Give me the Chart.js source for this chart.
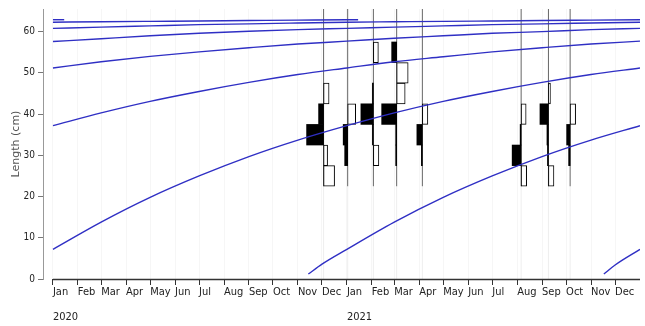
<!DOCTYPE html>
<html>
<head>
<meta charset="utf-8">
<script src="https://cdn.jsdelivr.net/npm/chart.js@4.4.1/dist/chart.umd.min.js"></script>
<style>
  html, body { margin: 0; padding: 0; background: #fff; }
</style>
</head>
<body>
<canvas id="lfq" width="645" height="326"></canvas>
<script>
// x values are days since 1 Jan 2020
const START = Date.UTC(2020, 0, 1);
const day = (s) => (Date.parse(s) - START) / 864e5;

// tick labels
const monthLabels = ['Jan', 'Feb', 'Mar', 'Apr', 'May', 'Jun', 'Jul', 'Aug', 'Sep', 'Oct', 'Nov', 'Dec'];
const years = [2020, 2021];

// length-frequency samples (restructured scores, + = peak, - = trough)
const lfqDates = ['2020-12-03', '2021-01-02', '2021-02-03', '2021-03-04', '2021-04-05', '2021-08-06', '2021-09-09', '2021-10-06'];
const lfqBins = [25, 30, 35, 40, 45, 50, 55];
const lfqScores = [
  [-1.1, -0.4, 1.7, 0.5, -0.55, 0, 0],
  [0, 0.3, 0.45, -0.8, 0, 0, 0],
  [0, -0.55, 0.1, 1.25, 0.1, 0, -0.5],
  [0, 0.1, 0.1, 1.5, -0.85, -1.15, 0.5],
  [0, 0.1, 0.55, -0.55, 0, 0, 0],
  [-0.55, 0.9, 0.1, -0.5, 0, 0, 0],
  [-0.55, 0.1, 0.15, 0.85, -0.2, 0, 0],
  [0, 0.15, 0.35, -0.55, 0, 0, 0]
];

// growth curves, one per cohort
const gDays = [0, 60, 121, 182, 244, 305, 366, 425, 486, 547, 609, 670, 731];
const len2019 = [7.2, 13.8, 19.8, 25.0, 29.7, 33.7, 37.2, 40.3, 43.1, 45.5, 47.7, 49.6, 51.2];
const len2018 = [37.2, 40.3, 43.1, 45.5, 47.7, 49.6, 51.2, 52.7, 53.9, 55.1, 56.1, 57.0, 57.7];
const len2017 = [51.2, 52.7, 54.0, 55.1, 56.1, 57.0, 57.7, 58.4, 59.0, 59.6, 60.0, 60.5, 60.8];
const len2016 = [57.6, 58.3, 59.0, 59.6, 60.1, 60.5, 60.8, 61.1, 61.4, 61.7, 61.9, 62.1, 62.3];
const len2015 = [60.8, 61.1, 61.4, 61.7, 61.9, 62.1, 62.3, 62.4, 62.5, 62.6, 62.7, 62.8, 62.9];
const days2014 = [0, 60, 121, 182, 244, 305, 366, 380];
const len2014 = [62.3, 62.4, 62.5, 62.6, 62.7, 62.8, 62.9, 62.9];
const days2013 = [0, 14];
const len2013 = [62.9, 62.9];
const days2020 = [318, 335, 366, 425, 486, 547, 609, 670, 731];
const len2020 = [1.2, 3.6, 7.2, 13.8, 19.8, 25.0, 29.7, 33.7, 37.2];
const days2021 = [686, 700, 731];
const len2021 = [1.2, 3.4, 7.2];

const DAYS_PER_SCORE = 12.45;
const Y_MAX = 65.5;
const BLUE = '#2f2fc4';

const zip = (xs, ys) => xs.map((x, i) => ({ x: x, y: ys[i] }));
const curves = [
  zip(gDays, len2019), zip(gDays, len2018), zip(gDays, len2017), zip(gDays, len2016),
  zip(gDays, len2015), zip(days2014, len2014), zip(days2013, len2013),
  zip(days2020, len2020), zip(days2021, len2021)
];

const blackBars = [];
const whiteBars = [];
const sampleTop = [];
const sampleLow = [];
lfqDates.forEach((d, i) => {
  const x0 = day(d);
  lfqScores[i].forEach((s, j) => {
    if (!s) return;
    const bar = { y: lfqBins[j], x: [x0, x0 - s * DAYS_PER_SCORE] };
    (s > 0 ? blackBars : whiteBars).push(bar);
  });
  sampleTop.push({ x: x0, y: lfqBins[0] - 2.5 }, { x: x0, y: Y_MAX }, { x: x0, y: null });
  sampleLow.push({ x: x0, y: 0 }, { x: x0, y: lfqBins[0] - 2.5 }, { x: x0, y: null });
});

const tickDays = [];
years.forEach(yr => {
  for (let m = 0; m < 12; m++) tickDays.push((Date.UTC(yr, m, 1) - START) / 864e5);
});

const narrow = "'Liberation Sans Narrow', 'DejaVu Sans Condensed', 'Liberation Sans', sans-serif";

const axisLine = {
  id: 'axisLine',
  afterDatasetsDraw(chart) {
    const { ctx, scales: { x, y } } = chart;
    const py = Math.round(y.getPixelForValue(0)) + 0.5;
    ctx.save();
    ctx.strokeStyle = '#333';
    ctx.lineWidth = 1.5;
    ctx.beginPath();
    ctx.moveTo(x.getPixelForValue(0), py);
    ctx.lineTo(x.right, py);
    ctx.stroke();
    ctx.restore();
  }
};

const datasets = curves.map(c => ({
  type: 'line',
  data: c,
  borderColor: BLUE,
  borderWidth: 1.4,
  pointRadius: 0,
  cubicInterpolationMode: 'monotone',
  order: 0
}));

datasets.push({
  type: 'bar', indexAxis: 'y', data: blackBars, grouped: false,
  backgroundColor: '#000', borderWidth: 0,
  barPercentage: 1, categoryPercentage: 1, order: 1
});
datasets.push({
  type: 'bar', indexAxis: 'y', data: whiteBars, grouped: false,
  backgroundColor: '#fff', borderColor: '#000', borderWidth: 1, borderSkipped: false,
  barPercentage: 1, categoryPercentage: 1, order: 1
});
datasets.push({
  type: 'line', data: sampleTop, borderColor: '#666', borderWidth: 1,
  pointRadius: 0, tension: 0, spanGaps: false, order: 2
});
datasets.push({
  type: 'line', data: sampleLow, borderColor: '#eeeeee', borderWidth: 1,
  pointRadius: 0, tension: 0, spanGaps: false, order: 3
});

new Chart(document.getElementById('lfq'), {
  type: 'line',
  data: { datasets: datasets },
  plugins: [axisLine],
  options: {
    responsive: false,
    animation: false,
    layout: { padding: { top: 3, right: 5, left: 0, bottom: 0 } },
    plugins: { legend: { display: false }, tooltip: { enabled: false } },
    scales: {
      x: {
        type: 'linear',
        min: -12.4,
        max: 731,
        offset: false,
        afterBuildTicks: (scale) => { scale.ticks = tickDays.map(v => ({ value: v })); },
        afterFit: (scale) => { scale.height = 47; },
        border: { display: false },
        grid: { offset: false, color: 'rgba(0,0,0,0.035)', tickColor: '#333', tickLength: 6 },
        ticks: {
          autoSkip: false,
          maxRotation: 0,
          align: 'start',
          padding: 1,
          color: '#222',
          font: { family: narrow, size: 11, lineHeight: 1.15 },
          callback: (value) => {
            const d = new Date(START + value * 864e5);
            const m = d.getUTCMonth();
            if (m === 0) return [monthLabels[m], '', String(d.getUTCFullYear())];
            return monthLabels[m];
          }
        }
      },
      y: {
        type: 'linear',
        min: 0,
        max: Y_MAX,
        offset: false,
        afterBuildTicks: (scale) => { scale.ticks = scale.ticks.filter(t => t.value % 10 === 0); },
        afterFit: (scale) => { scale.width = 43; },
        border: { color: '#999', width: 1 },
        grid: { offset: false, drawOnChartArea: false, color: '#777', tickLength: 5 },
        ticks: { stepSize: 10, padding: 3, color: '#222', font: { family: narrow, size: 10 } },
        title: {
          display: true,
          text: 'Length (cm)',
          color: '#555',
          padding: { top: 10, bottom: 0 },
          font: { family: "'DejaVu Sans', sans-serif", size: 11 }
        }
      }
    }
  }
});
</script>
</body>
</html>
